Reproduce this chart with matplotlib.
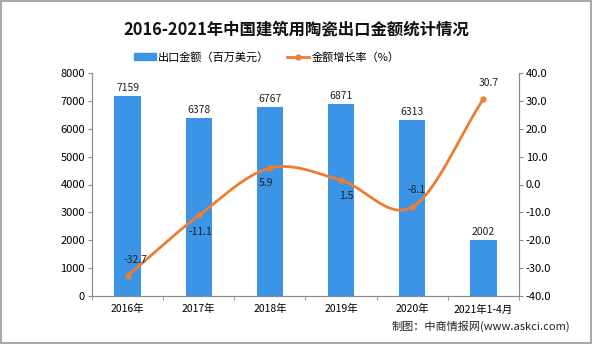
import numpy as np
import matplotlib
matplotlib.use("Agg")
import matplotlib.pyplot as plt
from matplotlib.lines import Line2D
from matplotlib.patches import Patch, Rectangle

plt.rcParams['font.family'] = ['Noto Sans CJK SC', 'DejaVu Sans']

categories = ["2016年", "2017年", "2018年", "2019年", "2020年", "2021年1-4月"]
export_value = [7159, 6378, 6767, 6871, 6313, 2002]
growth_rate = [-32.7, -11.1, 5.9, 1.5, -8.1, 30.7]

BAR_COLOR = "#3b94e6"
LINE_COLOR = "#ed7d31"
AXIS_COLOR = "#8c8c8c"

fig = plt.figure(figsize=(5.92, 3.44), dpi=100)
ax = fig.add_axes([92/592, 1-296/344, (519-92)/592, (296-73)/344])
ax2 = ax.twinx()

x = np.arange(len(categories))
ax.bar(x, export_value, width=0.37, color=BAR_COLOR, zorder=2)
ax.set_xlim(-0.5, len(categories)-0.5)
ax.set_ylim(0, 8000)
ax.set_yticks(range(0, 8001, 1000))
ax.set_xticks(x)
ax.set_xticklabels(categories)
ax.set_xticks(np.arange(-0.5, len(categories), 1), minor=True)
ax.tick_params(axis='x', which='major', length=0, pad=6, labelsize=7.5)
ax.tick_params(axis='x', which='minor', length=3, color=AXIS_COLOR, direction='out')
ax.tick_params(axis='y', length=3, color=AXIS_COLOR, labelsize=8, pad=2)

for xi, v in zip(x, export_value):
    ax.text(xi, v + 120, f"{v}", ha='center', va='bottom', fontsize=7.5, color='#222222')

# smooth curve through the growth points (Catmull-Rom)
def catmull_rom(px, py, n=30):
    px = np.asarray(px, float); py = np.asarray(py, float)
    P = np.column_stack([px, py])
    P = np.vstack([2*P[0]-P[1], P, 2*P[-1]-P[-2]])
    out = []
    for i in range(1, len(P)-2):
        p0, p1, p2, p3 = P[i-1], P[i], P[i+1], P[i+2]
        t = np.linspace(0, 1, n)[:, None]
        seg = 0.5*((2*p1) + (-p0+p2)*t + (2*p0-5*p1+4*p2-p3)*t**2 + (-p0+3*p1-3*p2+p3)*t**3)
        out.append(seg if i == 1 else seg[1:])
    out = np.vstack(out)
    return out[:, 0], out[:, 1]

sx, sy = catmull_rom(x, growth_rate)
ax2.plot(sx, sy, color=LINE_COLOR, lw=2.0, zorder=3, solid_capstyle='round')
ax2.plot(x, growth_rate, 'o', color=LINE_COLOR, ms=3.5, zorder=4)
ax2.set_ylim(-40, 40)
ax2.set_yticks(range(-40, 41, 10))
ax2.set_yticklabels([f"{v:.1f}" for v in range(-40, 41, 10)])
ax2.tick_params(axis='y', length=3, color=AXIS_COLOR, labelsize=8, pad=2)

offsets = [(6, 11.5), (1, -12), (-3, -11), (4, -11), (3, 12), (4, 11.5)]
for xi, v, (dx, dy) in zip(x, growth_rate, offsets):
    ax2.annotate(f"{v}", (xi, v), xytext=(dx, dy), textcoords='offset points',
                 ha='center', va='center', fontsize=7.5, color='#222222')

for a in (ax, ax2):
    a.spines['top'].set_visible(False)
    for s in ('left', 'right', 'bottom'):
        a.spines[s].set_color(AXIS_COLOR)
        a.spines[s].set_linewidth(0.8)

fig.text(0.5, 1-30/344, "2016-2021年中国建筑用陶瓷出口金额统计情况", ha='center', va='center',
         fontsize=11.8, fontweight='bold', color='#111111')

handles = [Patch(color=BAR_COLOR, label="出口金额（百万美元）"),
           Line2D([0], [0], color=LINE_COLOR, lw=2, marker='o', ms=3.5, label="金额增长率（%）")]
fig.legend(handles=handles, loc='center left', bbox_to_anchor=(128/592, 1-57/344), ncol=2,
           frameon=False, fontsize=8, handlelength=2.0, handleheight=0.6,
           handletextpad=0.2, columnspacing=1.6, borderpad=0)

fig.text(570/592, 1-326/344, "制图：中商情报网(www.askci.com)", ha='right', va='center',
         fontsize=8, color='#222222')

fig.patches.append(Rectangle((0.002, 0.004), 0.996, 0.992, transform=fig.transFigure,
                             fill=False, edgecolor='#9a9a9a', lw=1.2))

fig.savefig("out.png", dpi=100, facecolor='white')
